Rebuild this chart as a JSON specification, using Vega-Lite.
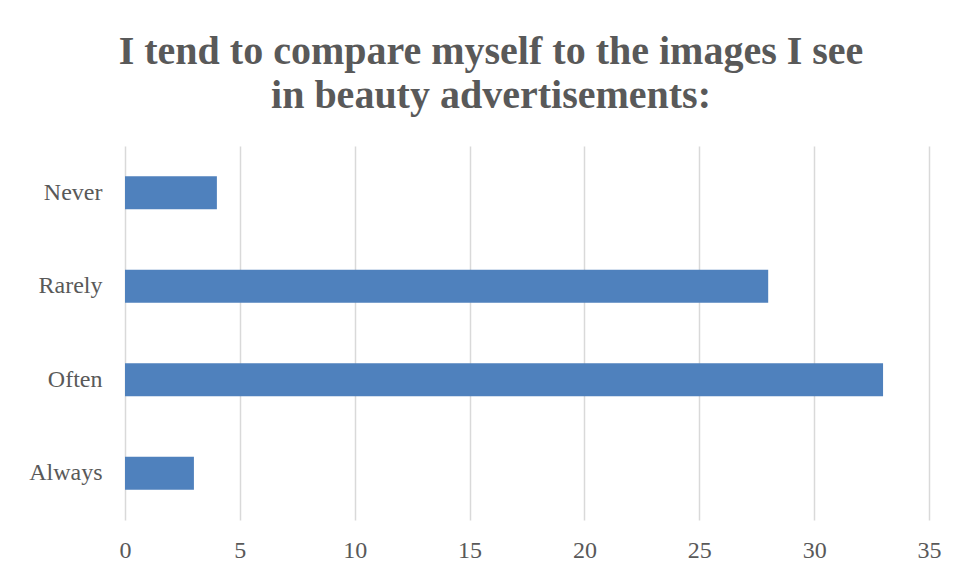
{
  "$schema": "https://vega.github.io/schema/vega-lite/v6.json",
  "width": 804,
  "height": 374,
  "autosize": {"type": "none"},
  "padding": {"left": 125, "top": 146, "right": 30, "bottom": 58},
  "background": "white",
  "title": {
    "text": ["I tend to compare myself to the images I see", "in beauty advertisements:"],
    "font": "Liberation Serif",
    "fontSize": 40,
    "fontWeight": "bold",
    "color": "#595959",
    "anchor": "middle",
    "dx": -36,
    "offset": 30,
    "lineHeight": 44
  },
  "data": {
    "values": [
      {"response": "Never", "count": 4},
      {"response": "Rarely", "count": 28},
      {"response": "Often", "count": 33},
      {"response": "Always", "count": 3}
    ]
  },
  "mark": {"type": "bar", "color": "#4F81BD"},
  "encoding": {
    "y": {
      "field": "response",
      "type": "nominal",
      "sort": ["Never", "Rarely", "Often", "Always"],
      "scale": {"paddingInner": 0.647, "paddingOuter": 0.3235},
      "axis": {
        "title": null,
        "domain": false,
        "ticks": false,
        "grid": false,
        "labelFont": "Liberation Serif",
        "labelFontSize": 24,
        "labelColor": "#595959",
        "labelPadding": 23
      }
    },
    "x": {
      "field": "count",
      "type": "quantitative",
      "scale": {"domain": [0, 35], "nice": false},
      "axis": {
        "title": null,
        "values": [0, 5, 10, 15, 20, 25, 30, 35],
        "domain": false,
        "ticks": false,
        "grid": true,
        "gridColor": "#d9d9d9",
        "gridWidth": 1.5,
        "gridOpacity": 1,
        "labelFlush": false,
        "labelFont": "Liberation Serif",
        "labelFontSize": 24,
        "labelColor": "#595959",
        "labelPadding": 18
      }
    }
  },
  "config": {"view": {"stroke": null}}
}
